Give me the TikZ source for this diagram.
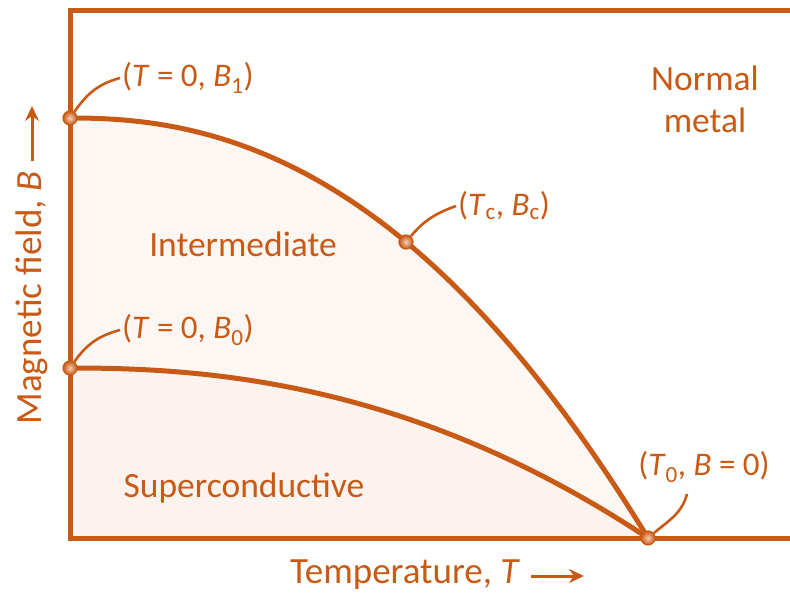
\documentclass[tikz,border=0pt]{standalone}
\usepackage{fontspec}
\setmainfont{Carlito}
\usetikzlibrary{arrows.meta}
\definecolor{main}{RGB}{200,90,22}
\definecolor{fillA}{RGB}{253,247,243}
\definecolor{fillB}{RGB}{252,243,238}
\definecolor{dotin}{RGB}{246,205,180}
\begin{document}
\begin{tikzpicture}[x=1pt,y=-1pt,
  frameline/.style={draw=main, line width=5pt},
  curveline/.style={draw=main, line width=5pt},
  dot/.style={circle, minimum size=14pt, inner sep=0pt, draw=main, line width=1.2pt, inner color=dotin, outer color=main},
  lead/.style={draw=main, line width=2.6pt},
  lab/.style={text=main, font=\fontsize{33}{35}\selectfont, inner sep=2pt},
  region/.style={text=main, font=\fontsize{35.5}{42}\selectfont, align=center},
  axlab/.style={text=main, font=\fontsize{37}{40}\selectfont},
  axarrow/.style={draw=main, line width=3pt, -{Stealth[length=15pt,width=14pt,inset=5pt]}}]
\useasboundingbox (0,0) rectangle (790,596);
% fills
\fill[fillA] plot[domain=0:1,samples=100] ({70+578*\x},{538-420*(1-\x*\x*sqrt(sqrt(\x)))}) -- (70,538) -- cycle;
\fill[fillB] plot[domain=0:1,samples=100] ({70+578*\x},{538-170*(1-\x*\x*sqrt(sqrt(\x)))}) -- (70,538) -- cycle;
% curves
\draw[curveline] plot[domain=0:1,samples=100] ({70+578*\x},{538-420*(1-\x*\x*sqrt(sqrt(\x)))});
\draw[curveline] plot[domain=0:1,samples=100] ({70+578*\x},{538-170*(1-\x*\x*sqrt(sqrt(\x)))});
% frame
\draw[frameline] (790,11) -- (70,11) -- (70,538) -- (790,538);
% labels
\node[lab, anchor=west] (l1) at (120,78) {(\textit{T} = 0, \textit{B}\textsubscript{1})};
\node[lab, anchor=west] (l0) at (120,330) {(\textit{T} = 0, \textit{B}\textsubscript{0})};
\node[lab, anchor=west] (lc) at (456,206) {(\textit{T}\textsubscript{c}, \textit{B}\textsubscript{c})};
\node[lab] (l4) at (704,467) {(\textit{T}\textsubscript{0}, \textit{B} = 0)};
\coordinate (l4end) at (687,494);
% points
\node[dot] (p1) at (70,118) {};
\node[dot] (p0) at (70,368) {};
\node[dot] (pc) at (406,242) {};
\node[dot] (pt) at (648,538) {};
% leaders
\draw[lead] (p1) to[out=55,in=195] (l1.west);
\draw[lead] (p0) to[out=55,in=195] (l0.west);
\draw[lead] (pc) to[out=50,in=200] (lc.west);
\draw[lead] (pt) to[out=40,in=255] (l4end);
% regions
\node[region] (nm) at (705,99) {Normal\\metal};
\node[region] (im) at (243,244) {Intermediate};
\node[region] (sc) at (244,488) {Superconduc\kern0pt tive};
% axes labels
\node[axlab, rotate=90] (ylab) at (32,298) {Magne\kern0pt tic field, \textit{B}};
\coordinate (ya) at (32,161);
\coordinate (yb) at (32,106);
\draw[axarrow] (ya) -- (yb);
\node[axlab] (xlab) at (405,575) {Temperature, \textit{T}};
\coordinate (xa) at (531,576);
\coordinate (xb) at (584,576);
\draw[axarrow] (xa) -- (xb);
\end{tikzpicture}
\end{document}
